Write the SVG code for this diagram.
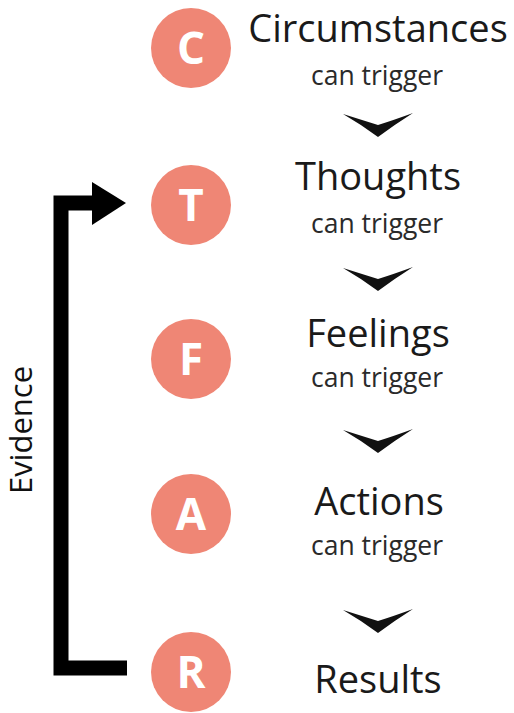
<svg xmlns="http://www.w3.org/2000/svg" xmlns:xlink="http://www.w3.org/1999/xlink" width="514" height="713" viewBox="0 0 514 713">
  <defs>
    <style>
      .circ { fill: #EF8675; }
      .letter { font-family: "Open Sans", "Liberation Sans", sans-serif; font-weight: 700; font-size: 44px; fill: #ffffff; text-anchor: middle; }
      .title { font-family: "Open Sans", "Liberation Sans", sans-serif; font-size: 38px; fill: #1a1a1a; text-anchor: middle; }
      .sub { font-family: "Open Sans", "Liberation Sans", sans-serif; font-size: 26.5px; fill: #2a2a2a; text-anchor: middle; }
      .side { font-family: "Open Sans", "Liberation Sans", sans-serif; font-size: 31px; fill: #111111; text-anchor: middle; }
      .chev { fill: #111111; }
    </style>
    <path id="chevron" class="chev" d="M-35,1 Q-16,7 0,12 Q16,7 35,0 Q16,12 0,24 Q-16,12 -35,1 Z"/>
  </defs>
  <rect width="514" height="713" fill="#ffffff"/>

  <g id="connectors">
    <use xlink:href="#chevron" x="378" y="113"/>
    <use xlink:href="#chevron" x="378" y="267"/>
    <use xlink:href="#chevron" x="378" y="429"/>
    <use xlink:href="#chevron" x="378" y="609"/>
    <path d="M127,668 H61 V203 H95" fill="none" stroke="#000000" stroke-width="15" stroke-linejoin="miter"/>
    <polygon points="92,182 126,203 92,225" fill="#000000"/>
    <text class="side" transform="translate(32,430) rotate(-90)">Evidence</text>
  </g>

  <g id="node-c">
    <circle class="circ" cx="191" cy="48" r="40"/>
    <text class="letter" x="191" y="64">C</text>
    <text class="title" x="378" y="42">Circumstances</text>
    <text class="sub" x="377" y="85">can trigger</text>
  </g>

  <g id="node-t">
    <circle class="circ" cx="191" cy="205" r="40"/>
    <text class="letter" x="191" y="221">T</text>
    <text class="title" x="378" y="190">Thoughts</text>
    <text class="sub" x="377" y="233">can trigger</text>
  </g>

  <g id="node-f">
    <circle class="circ" cx="191" cy="359" r="40"/>
    <text class="letter" x="191" y="375">F</text>
    <text class="title" x="378" y="347">Feelings</text>
    <text class="sub" x="377" y="387">can trigger</text>
  </g>

  <g id="node-a">
    <circle class="circ" cx="191" cy="514" r="40"/>
    <text class="letter" x="191" y="530">A</text>
    <text class="title" x="379" y="515">Actions</text>
    <text class="sub" x="377" y="555">can trigger</text>
  </g>

  <g id="node-r">
    <circle class="circ" cx="191" cy="672" r="40"/>
    <text class="letter" x="191" y="688">R</text>
    <text class="title" x="378" y="693">Results</text>
  </g>
</svg>
